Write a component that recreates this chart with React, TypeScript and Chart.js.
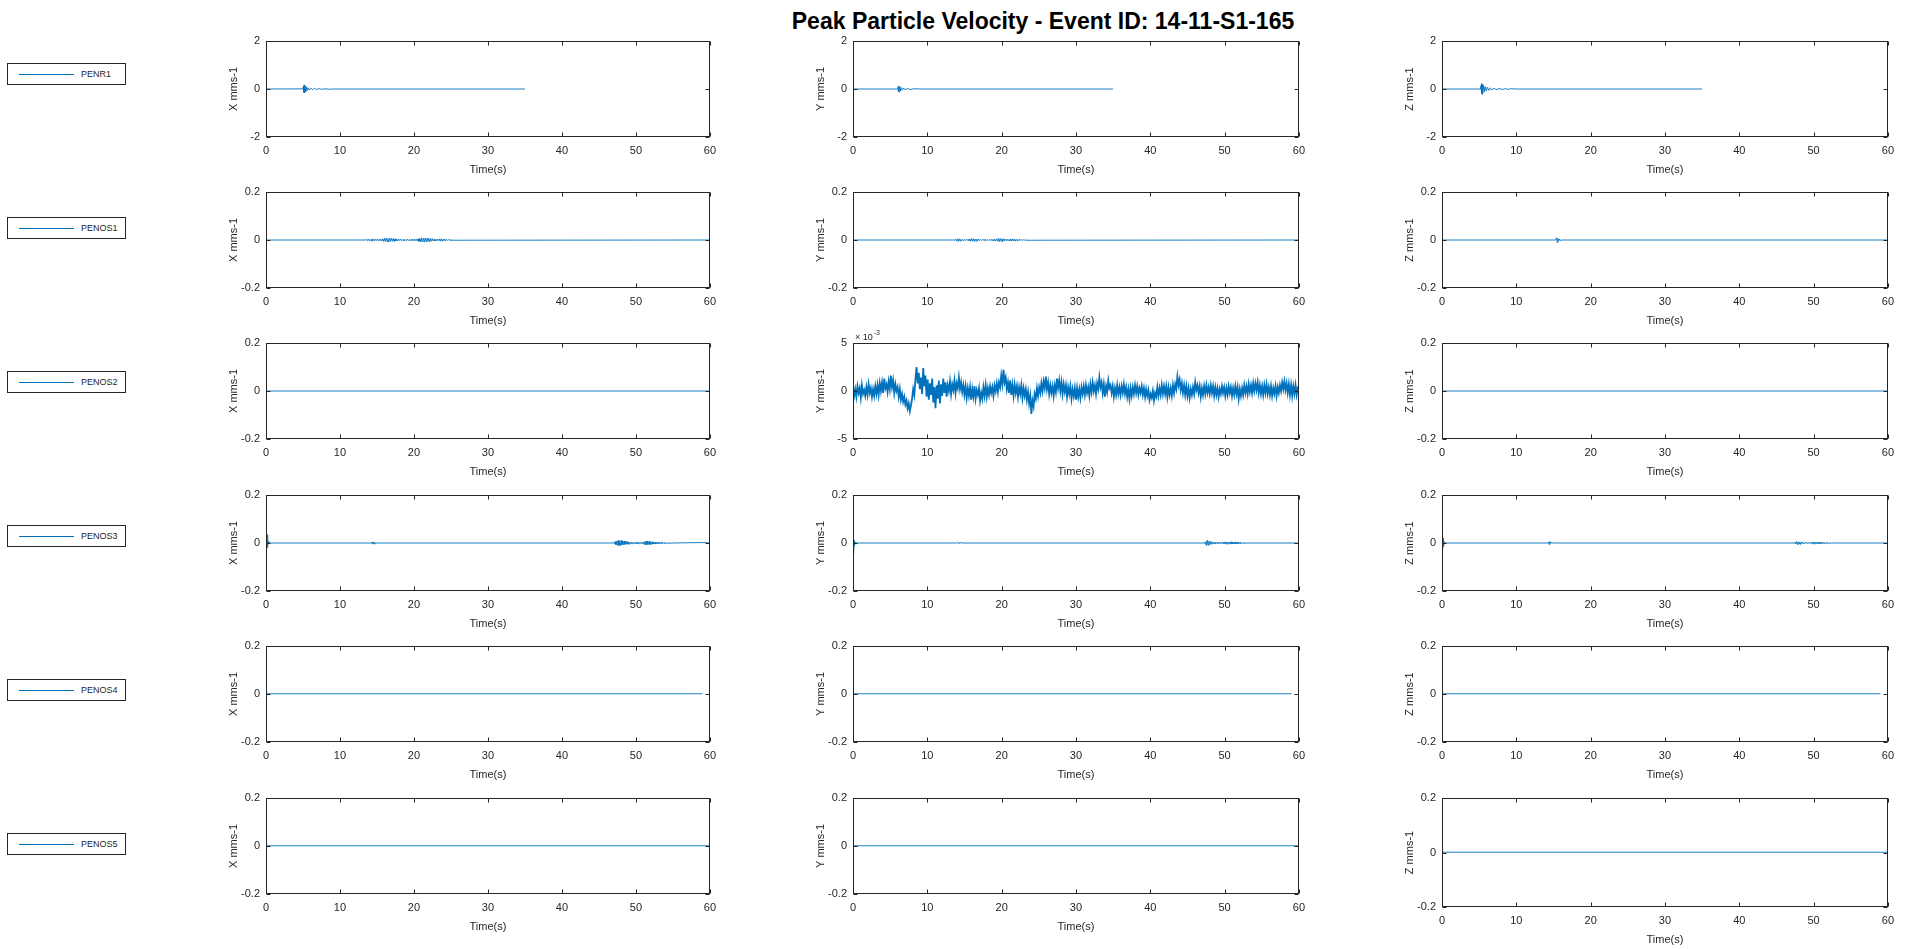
import React, { useEffect, useRef } from "react";
import { Chart, registerables } from "chart.js";
Chart.register(...registerables);

const FONT = '"Liberation Sans", Arial, Helvetica, sans-serif';
const TEXT = "#262626";
const LINE = "#0072BD";

const TITLE = "Peak Particle Velocity - Event ID: 14-11-S1-165";
const STATIONS = ["PENR1", "PENOS1", "PENOS2", "PENOS3", "PENOS4", "PENOS5"];
const COMPONENTS = ["X", "Y", "Z"];
const TIME_TICKS = [0, 10, 20, 30, 40, 50, 60];
const Y_TICKS_PENR1 = [-2, 0, 2];
const Y_TICKS_PENOS = [-0.2, 0, 0.2];
const Y_TICKS_E3 = [-5, 0, 5];

// ---- series data: [time (s), velocity (mm/s)] ----
const PENR1_X: number[][] = [[0, 0], [5.0, 0.005], [5.05, 0.1], [5.1, -0.14], [5.15, 0.17], [5.2, -0.16], [5.25, 0.15], [5.3, -0.12], [5.35, 0.11], [5.4, -0.09], [5.5, 0.07], [5.6, -0.06], [5.75, 0.05], [5.9, -0.04], [6.1, 0.03], [6.3, -0.03], [6.6, 0.04], [6.8, -0.03], [7.1, 0.02], [7.5, -0.015], [8, 0.01], [8.5, -0.01], [9, 0], [35, 0]];
const PENR1_Y: number[][] = [[0, 0], [6.0, 0], [6.05, 0.08], [6.1, -0.11], [6.15, 0.13], [6.2, -0.12], [6.3, 0.1], [6.4, -0.08], [6.5, 0.06], [6.65, -0.05], [6.8, 0.04], [7, -0.03], [7.3, 0.02], [7.7, -0.02], [8.2, 0.01], [9, 0], [35, 0]];
const PENR1_Z: number[][] = [[0, 0], [5.2, 0], [5.25, 0.15], [5.3, -0.2], [5.35, 0.23], [5.4, -0.22], [5.45, 0.2], [5.5, -0.17], [5.6, 0.14], [5.7, -0.12], [5.8, 0.1], [5.95, -0.08], [6.1, 0.07], [6.3, -0.06], [6.5, 0.05], [6.7, -0.04], [7, 0.03], [7.3, -0.03], [7.7, 0.02], [8.1, -0.02], [8.6, 0.02], [8.9, -0.02], [9.2, 0.01], [10, 0], [35, 0]];

// Burst segments: start time (s), sample spacing (s), values in 1e-3 mm/s
const PENOS1_X_T0 = 13.6;
const PENOS1_X_DT = 0.12;
const PENOS1_X_BURST_E3: number[] = [
  3, -3, 4, -3, 2, -4, 5, -4, 3, -3, 4, -2, 3, -3, 2, -2, 3, -4, 5, -6,
  7, -6, 8, -7, 6, -8, 7, -6, 8, -5, 6, -7, 5, -4, 3, -4, 3, -2, 4, -3,
  2, -2, 3, -3, 2, -2, 3, -2, 2, -3, 2, -2, 3, -3, 4, -3, 3, -4, 5, -6,
  7, -8, 9, -8, 7, -9, 8, -7, 8, -6, 7, -8, 6, -5, 6, -4, 3, -4, 3, -3,
  4, -3, 4, -5, 5, -4, 3, -3, 4, -3, 2, -2, 2, -1, 1, -1,
];
const PENOS1_Y_T0 = 13.8;
const PENOS1_Y_DT = 0.12;
const PENOS1_Y_BURST_E3: number[] = [
  3, -4, 5, -6, 5, -4, 3, -3, 2, -3, 2, -2, 3, -2, 2, -3, 4, -5, 6, -5,
  5, -6, 4, -5, 4, -3, 3, -2, 2, -2, 2, -1, 2, -2, 2, -2, 1, -2, 2, -2,
  3, -3, 2, -3, 3, -4, 5, -5, 6, -7, 6, -5, 5, -6, 5, -4, 4, -3, 3, -3,
  2, -3, 4, -4, 5, -4, 4, -5, 3, -3, 2, -2, 3, -2, 2, -1, 1, -1, 1, -1,
];
const PENOS1_Z: number[][] = [[0, 0], [15.3, 0], [15.4, 0.009], [15.5, -0.01], [15.6, 0.007], [15.7, -0.005], [15.8, 0.004], [15.9, -0.002], [16.1, 0], [60, 0]];

const PENOS2_X: number[][] = [[0, 0], [60, 0]];
const PENOS2_DT = 0.15; // sample spacing of the Y trace (s)
// Y trace of PENOS2 in units of 1e-3 mm/s
const PENOS2_Y_E3: number[] = [
  0.4, -0.5, 0.2, -0.6, 0.5, -0.2, 0.3, -0.7, 0.6, -0.3, 0.1, -0.5, 0.4, -0.4, 0.7, -0.2, 0.3, -0.6, 0.2, -0.5,
  0.5, -0.3, 0.6, -0.4, 0.8, 0.0, 0.9, -0.2, 1.3, 0.3, 0.7, -0.1, 1.0, 0.2, 1.6, 0.4, 1.1, -0.2, 0.7, 0.0,
  0.4, -0.6, 0.2, -0.9, -0.3, -1.1, -0.6, -1.4, -1.0, -1.8, -1.3, -2.1, -1.5, -0.8, 0.2, -0.4, 1.2, 2.5, 0.8, 1.9,
  0.2, 1.4, -0.3, 2.4, 0.5, 1.6, -0.6, 1.2, -0.9, 0.8, -0.4, 1.3, -1.2, 0.4, -1.8, 0.6, -0.8, 1.1, -1.3, 0.7,
  -0.5, 1.3, -0.2, 0.9, -0.6, 0.6, 0.0, 1.0, -0.3, 0.7, 0.1, 1.1, -0.2, 0.8, 0.3, 1.4, 0.2, 0.9, -0.1, 0.6,
  -0.4, 0.5, -0.7, 0.3, -0.5, 0.4, -0.9, 0.2, -0.6, 0.5, -0.8, 0.1, -0.4, 0.3, -1.0, -0.2, -0.8, 0.4, -0.5, 0.6,
  -0.6, 0.3, -0.4, 0.5, -0.2, 0.4, -0.5, 0.6, 0.0, 0.8, -0.1, 0.9, 0.4, 1.6, 0.7, 2.2, 0.9, 1.4, 0.2, 0.9,
  -0.2, 1.1, -0.4, 0.6, -0.5, 0.7, -0.2, 0.5, -0.6, 0.4, -0.3, 0.6, -0.7, 0.3, -0.5, 0.2, -0.9, -0.1, -1.3, -0.5,
  -2.4, -1.0, -1.6, -0.3, -0.8, 0.3, -0.5, 0.4, -0.2, 0.8, 0.0, 1.0, 0.3, 1.5, 0.2, 0.9, -0.3, 0.6, -0.2, 0.5,
  -0.5, 0.6, -0.1, 1.3, 0.3, 1.1, 0.0, 0.9, -0.3, 0.7, -0.1, 0.6, -0.6, 0.4, -0.3, 0.5, -0.8, 0.2, -0.5, 0.3,
  -0.9, 0.3, -0.6, 0.2, -0.7, 0.4, -0.3, 0.5, -0.4, 0.6, -0.2, 0.4, -0.5, 0.7, -0.1, 0.9, 0.0, 0.6, -0.3, 0.8,
  0.2, 1.4, 0.4, 0.9, -0.2, 0.7, -0.6, 0.5, -0.1, 1.1, 0.3, 0.6, -0.2, 0.5, -0.6, 0.3, -0.4, 0.6, -0.3, 0.4,
  -0.4, 0.5, -0.2, 0.7, -0.3, 0.4, -0.6, 0.2, -0.8, 0.3, -0.5, 0.4, -0.3, 0.6, -0.2, 0.5, -0.4, 0.3, -0.2, 0.5,
  -0.4, 0.3, -0.6, 0.2, -0.5, 0.1, -0.9, -0.3, -0.7, 0.0, -1.0, -0.2, -0.6, 0.4, -0.5, 0.3, -0.4, 0.6, -0.3, 0.5,
  -0.3, 0.5, -0.6, 0.4, -0.4, 0.3, -0.5, 0.6, -0.2, 0.7, 0.2, 1.5, 0.6, 1.2, 0.1, 0.8, -0.2, 0.6, -0.4, 0.5,
  -0.5, 0.3, -0.7, 0.2, -0.4, 0.4, -0.3, 0.9, 0.1, 0.6, -0.2, 0.5, -0.6, 0.3, -0.4, 0.5, -0.3, 0.6, -0.2, 0.4,
  -0.3, 0.6, -0.2, 0.5, -0.5, 0.4, -0.4, 0.3, -0.6, 0.2, -0.3, 0.5, -0.2, 0.4, -0.5, 0.3, -0.4, 0.5, -0.2, 0.4,
  -0.5, 0.3, -0.4, 0.5, -0.3, 0.4, -0.8, 0.2, -0.5, 0.3, -0.4, 0.6, -0.2, 0.5, -0.3, 0.7, -0.1, 0.6, -0.2, 0.8,
  0.0, 0.8, 0.1, 0.9, -0.2, 0.6, -0.3, 0.5, -0.4, 0.6, -0.2, 0.7, -0.3, 0.4, -0.4, 0.5, -0.5, 0.3, -0.3, 0.5,
  -0.5, 0.4, -0.2, 0.6, 0.0, 0.9, 0.2, 1.0, 0.1, 0.8, -0.2, 0.7, -0.4, 0.6, -0.5, 0.5, -0.3, 0.6, -0.4, 0.3,
  0.1,
];
const PENOS2_Z: number[][] = [[0, 0], [60, 0]];

const PENOS3_X_START: number[][] = [[0, 0], [0.05, -0.04], [0.1, 0.03], [0.15, -0.02], [0.2, 0.035], [0.25, -0.01], [0.35, 0.008], [0.5, 0], [14.2, 0], [14.3, 0.004], [14.4, -0.005], [14.5, 0.005], [14.6, -0.004], [14.7, 0.003], [14.8, -0.002], [15, 0], [46.9, 0]];
const PENOS3_X_T0 = 47.0;
const PENOS3_X_DT = 0.1;
const PENOS3_X_BURST_E3: number[] = [
  3, -4, 6, -7, 8, -10, 11, -10, 9, -11, 10, -8, 9, -7, 8, -6, 7, -5, 6, -5,
  4, -5, 3, -4, 3, -3, 2, -3, 3, -2, 3, -4, 4, -3, 3, -2, 2, -3, 3, -2,
  4, -5, 6, -7, 8, -7, 8, -6, 7, -6, 5, -6, 5, -4, 4, -5, 3, -4, 3, -3,
  2, -3, 2, -2, 3, -2, 2, -2, 1, -2, 2, -1,
];
const PENOS3_X_END: number[][] = [[55, 0], [57, 0.001], [59.5, 0.002], [60, 0]];
const PENOS3_Y_START: number[][] = [[0, 0], [0.05, 0.02], [0.1, -0.045], [0.15, 0.01], [0.2, -0.01], [0.3, 0.003], [0.5, 0], [14, 0], [14.2, 0.003], [14.3, -0.003], [14.4, 0.002], [14.6, 0], [47.2, 0]];
const PENOS3_Y_T0 = 47.3;
const PENOS3_Y_DT = 0.1;
const PENOS3_Y_BURST_E3: number[] = [
  3, -5, 7, -10, 12, -9, 8, -7, 6, -5, 5, -4, 4, -3, 3, -4, 3, -2, 2, -3,
  3, -2, 2, -2, 3, -3, 4, -4, 5, -4, 4, -5, 4, -3, 4, -5, 5, -4, 3, -4,
  4, -3, 5, -4, 4, -3, 3, -3, 2, -2, 2, -1, 1, -1,
];
const PENOS3_Y_END: number[][] = [[53, 0], [60, 0]];
const PENOS3_Z_START: number[][] = [[0, 0], [0.05, 0.035], [0.1, -0.03], [0.15, 0.02], [0.2, -0.015], [0.3, 0.006], [0.45, 0], [14.2, 0], [14.3, 0.004], [14.4, -0.006], [14.5, 0.006], [14.6, -0.004], [14.7, 0.003], [14.9, 0], [47.4, 0]];
const PENOS3_Z_T0 = 47.5;
const PENOS3_Z_DT = 0.1;
const PENOS3_Z_BURST_E3: number[] = [
  3, -4, 6, -5, 5, -6, 4, -5, 4, -3, 3, -2, 2, -2, 2, -1, 2, -2, 1, -1,
  2, -2, 2, -3, 4, -3, 4, -4, 3, -4, 3, -3, 4, -3, 2, -3, 3, -2, 2, -2,
  1, -2, 2, -1, 1, -1,
];
const PENOS3_Z_END: number[][] = [[52.5, 0], [60, 0]];

const PENOS4_X: number[][] = [[0, 0.001], [59, 0.001]];
const PENOS4_Y: number[][] = [[0, 0.001], [59, 0.001]];
const PENOS4_Z: number[][] = [[0, 0.001], [59, 0.001]];

const PENOS5_X: number[][] = [[0, 0.001], [60, 0.001]];
const PENOS5_Y: number[][] = [[0, 0.001], [60, 0.001]];
const PENOS5_Z: number[][] = [[0, 0.001], [60, 0.001]];

// ---- layout ----
const COL_LEFT = [266, 853, 1442];
const COL_WIDTH = [447, 449, 449];
const ROW_TOP = [41, 192, 343, 495, 646, 798];
const ROW_H = 96;
const LEGEND_CY = [74, 228, 382, 536, 690, 844];

const PADL = 70;
const PADT = 14;
const PADR = 10;
const XH = 42;
const TL = 4;

function burst(t0: number, dt: number, valsE3: number[]): number[][] {
  return valsE3.map((v, i) => [t0 + i * dt, v / 1000]);
}

const boxPlugin = {
  id: "matlabBox",
  afterDraw(chart: any) {
    const { ctx, chartArea: a, scales } = chart;
    ctx.save();
    ctx.strokeStyle = TEXT;
    ctx.lineWidth = 1;
    const l = Math.round(a.left) + 0.5;
    const r = Math.round(a.right) - 0.5;
    const t = Math.round(a.top) + 0.5;
    const b = Math.round(a.bottom) - 0.5;
    ctx.strokeRect(l, t, r - l, b - t);
    ctx.beginPath();
    for (const tk of scales.x.ticks) {
      const px = Math.round(scales.x.getPixelForValue(tk.value)) + 0.5;
      ctx.moveTo(px, b);
      ctx.lineTo(px, b - TL);
      ctx.moveTo(px, t);
      ctx.lineTo(px, t + TL);
    }
    for (const tk of scales.y.ticks) {
      const py = Math.round(scales.y.getPixelForValue(tk.value)) + 0.5;
      ctx.moveTo(l, py);
      ctx.lineTo(l + TL, py);
      ctx.moveTo(r, py);
      ctx.lineTo(r - TL, py);
    }
    ctx.stroke();
    ctx.restore();
  },
};

const expPlugin = {
  id: "expLabel",
  afterDraw(chart: any) {
    const { ctx, chartArea: a } = chart;
    ctx.save();
    ctx.fillStyle = TEXT;
    ctx.textBaseline = "alphabetic";
    ctx.font = `9px ${FONT}`;
    const x0 = a.left + 2;
    const y0 = a.top - 3;
    ctx.fillText("\u00d7 10", x0, y0);
    const w = ctx.measureText("\u00d7 10").width;
    ctx.font = `7px ${FONT}`;
    ctx.fillText("-3", x0 + w + 1, y0 - 5);
    ctx.restore();
  },
};

function fmt(v: number) {
  return String(Number(v.toFixed(4)));
}

type PanelProps = {
  left: number;
  top: number;
  width: number;
  height: number;
  points: number[][];
  yTicks: number[];
  yLabel: string;
  exponent?: boolean;
  lineWidth: number;
};

function Panel({ left, top, width, height, points, yTicks, yLabel, exponent, lineWidth }: PanelProps) {
  const ref = useRef<HTMLCanvasElement>(null);
  const cw = width + PADL + PADR;
  const ch = height + PADT + XH;
  useEffect(() => {
    const chart = new Chart(ref.current as HTMLCanvasElement, {
      type: "line",
      data: {
        datasets: [
          {
            data: points.map(([x, y]) => ({ x, y })),
            borderColor: LINE,
            borderWidth: lineWidth,
            pointRadius: 0,
            fill: false,
            tension: 0,
          },
        ],
      },
      options: {
        animation: false,
        responsive: false,
        maintainAspectRatio: false,
        devicePixelRatio: 1,
        events: [],
        layout: { padding: { left: 0, top: PADT, right: PADR, bottom: 0 } },
        plugins: {
          legend: { display: false },
          tooltip: { enabled: false },
          title: { display: false },
        },
        scales: {
          x: {
            type: "linear",
            min: 0,
            max: 60,
            afterBuildTicks: (s: any) => {
              s.ticks = TIME_TICKS.map((v) => ({ value: v }));
            },
            grid: { display: false, drawTicks: false },
            border: { display: false },
            ticks: {
              color: TEXT,
              font: { size: 11, family: FONT },
              padding: 7,
              maxRotation: 0,
              autoSkip: false,
              callback: (v: any) => fmt(Number(v)),
            },
            title: {
              display: true,
              text: "Time(s)",
              color: TEXT,
              font: { size: 11, family: FONT },
              padding: { top: 0, bottom: 2 },
            },
            afterFit: (s: any) => {
              s.height = XH;
            },
          },
          y: {
            type: "linear",
            min: yTicks[0],
            max: yTicks[yTicks.length - 1],
            afterBuildTicks: (s: any) => {
              s.ticks = yTicks.map((v) => ({ value: v }));
            },
            grid: { display: false, drawTicks: false },
            border: { display: false },
            ticks: {
              color: TEXT,
              font: { size: 11, family: FONT },
              padding: 6,
              autoSkip: false,
              callback: (v: any) => fmt(Number(v)),
            },
            title: {
              display: true,
              text: yLabel,
              color: TEXT,
              font: { size: 11, family: FONT },
              padding: { top: 31, bottom: 0 },
            },
            afterFit: (s: any) => {
              s.width = PADL;
            },
          },
        },
      } as any,
      plugins: exponent ? [boxPlugin, expPlugin] : [boxPlugin],
    });
    return () => chart.destroy();
  }, []);
  return (
    <canvas
      ref={ref}
      width={cw}
      height={ch}
      style={{ position: "absolute", left: left - PADL, top: top - PADT, width: cw, height: ch }}
    />
  );
}

function Legend({ name, cy }: { name: string; cy: number }) {
  return (
    <div
      style={{
        position: "absolute",
        left: 7,
        top: cy - 11,
        width: 119,
        height: 22,
        border: `1px solid ${TEXT}`,
        boxSizing: "border-box",
        background: "#fff",
      }}
    >
      <div style={{ position: "absolute", left: 11, top: 10, width: 55, height: 1, background: LINE }} />
      <span
        style={{
          position: "absolute",
          left: 73,
          top: 0,
          lineHeight: "20px",
          fontSize: 9,
          fontFamily: FONT,
          color: TEXT,
          whiteSpace: "nowrap",
        }}
      >
        {name}
      </span>
    </div>
  );
}

export default function App() {
  useEffect(() => {
    document.body.style.overflow = "hidden";
    document.documentElement.style.overflow = "hidden";
  }, []);

  const penos1X = [[0, 0], [PENOS1_X_T0 - 0.1, 0], ...burst(PENOS1_X_T0, PENOS1_X_DT, PENOS1_X_BURST_E3), [60, 0]];
  const penos1Y = [[0, 0], [PENOS1_Y_T0 - 0.1, 0], ...burst(PENOS1_Y_T0, PENOS1_Y_DT, PENOS1_Y_BURST_E3), [60, 0]];
  const penos2Y = PENOS2_Y_E3.map((v, i) => [i * PENOS2_DT, v]);
  const penos3X = [...PENOS3_X_START, ...burst(PENOS3_X_T0, PENOS3_X_DT, PENOS3_X_BURST_E3), ...PENOS3_X_END];
  const penos3Y = [...PENOS3_Y_START, ...burst(PENOS3_Y_T0, PENOS3_Y_DT, PENOS3_Y_BURST_E3), ...PENOS3_Y_END];
  const penos3Z = [...PENOS3_Z_START, ...burst(PENOS3_Z_T0, PENOS3_Z_DT, PENOS3_Z_BURST_E3), ...PENOS3_Z_END];

  const grid: number[][][][] = [
    [PENR1_X, PENR1_Y, PENR1_Z],
    [penos1X, penos1Y, PENOS1_Z],
    [PENOS2_X, penos2Y, PENOS2_Z],
    [penos3X, penos3Y, penos3Z],
    [PENOS4_X, PENOS4_Y, PENOS4_Z],
    [PENOS5_X, PENOS5_Y, PENOS5_Z],
  ];

  const panels: any[] = [];
  STATIONS.forEach((st, r) => {
    COMPONENTS.forEach((comp, c) => {
      const isE3 = r === 2 && c === 1;
      const yTicks = r === 0 ? Y_TICKS_PENR1 : isE3 ? Y_TICKS_E3 : Y_TICKS_PENOS;
      const height = r === 5 && c === 2 ? 109 : ROW_H;
      panels.push(
        <Panel
          key={`${st}-${comp}`}
          left={COL_LEFT[c]}
          top={ROW_TOP[r]}
          width={COL_WIDTH[c]}
          height={height}
          points={grid[r][c]}
          yTicks={yTicks}
          yLabel={`${comp} mms-1`}
          exponent={isE3}
          lineWidth={isE3 ? 1.8 : 0.9}
        />
      );
    });
  });

  return (
    <div style={{ position: "absolute", left: 0, top: 0, width: 1910, height: 949, background: "#fff" }}>
      <div
        style={{
          position: "absolute",
          left: 1043,
          top: 7,
          transform: "translateX(-50%)",
          fontFamily: FONT,
          fontWeight: "bold",
          fontSize: 23,
          lineHeight: "28px",
          color: "#000",
          whiteSpace: "nowrap",
        }}
      >
        {TITLE}
      </div>
      {STATIONS.map((s, i) => (
        <Legend key={s} name={s} cy={LEGEND_CY[i]} />
      ))}
      {panels}
    </div>
  );
}
